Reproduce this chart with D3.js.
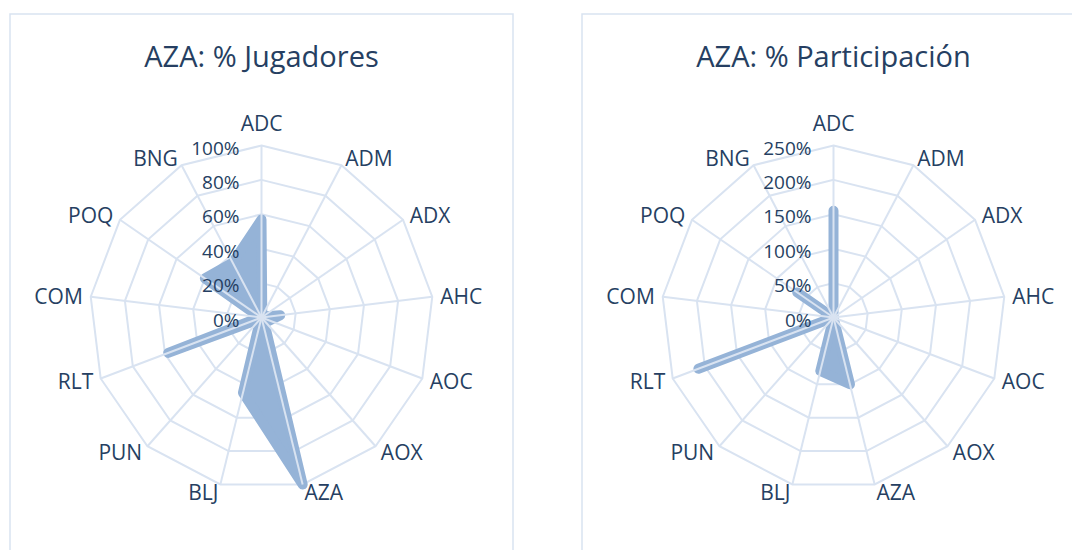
<!DOCTYPE html>
<html>
<head>
<meta charset="utf-8">
<script src="https://cdn.jsdelivr.net/npm/d3@7"></script>
<style>
  body { margin: 0; background: #fff; }
  text { font-family: "Open Sans", "Noto Sans", sans-serif; fill: #263f62; }
</style>
</head>
<body>
<div class="chart-container"></div>
<script>
//Width and height
const w = 1072;
const h = 550;

// categories, clockwise from the top
const categories = ["ADC", "ADM", "ADX", "AHC", "AOC", "AOX", "AZA", "BLJ", "PUN", "RLT", "COM", "POQ", "BNG"];

// % Jugadores
const jugadores = [57, 1, 1, 11, 5, 2, 100, 45, 1, 58, 1, 40, 36];
const jugadoresTicks = [0, 20, 40, 60, 80, 100];

// % Participacion
const participacion = [155, 0, 0, 0, 0, 0, 100, 80, 0, 210, 0, 64, 0];
const participacionTicks = [0, 50, 100, 150, 200, 250];

const gridColor = "#d9e3f1";
const fillColor = "#95b3d7";

const panelW = 503;
const radius = 172;

//Create SVG element
const svg = d3
  .select(".chart-container")
  .append("svg")
  .attr("width", w)
  .attr("height", h);

const angle = (i) => (i * 2 * Math.PI) / categories.length;

const drawRadar = (x0, title, values, ticks) => {
  const cx = x0 + panelW / 2;
  const cy = 317.5;

  const r = d3
    .scaleLinear()
    .domain([0, d3.max(ticks)])
    .range([0, radius]);

  const g = svg.append("g");

  // panel border
  g.append("rect")
    .attr("x", x0)
    .attr("y", 14)
    .attr("width", panelW)
    .attr("height", 600)
    .attr("fill", "none")
    .attr("stroke", gridColor)
    .attr("stroke-width", 1.5);

  // title
  g.append("text")
    .attr("x", cx)
    .attr("y", 67)
    .attr("text-anchor", "middle")
    .style("font-size", "29px")
    .text(title);

  const chart = g.append("g").attr("transform", `translate(${cx},${cy})`);

  // rings
  const ring = d3
    .lineRadial()
    .angle((d, i) => angle(i))
    .radius((d) => r(d))
    .curve(d3.curveLinearClosed);

  chart
    .selectAll(".ring")
    .data(ticks.slice(1))
    .enter()
    .append("path")
    .attr("class", "ring")
    .attr("d", (t) => ring(categories.map(() => t)))
    .attr("fill", "none")
    .attr("stroke", gridColor)
    .attr("stroke-width", 2);

  // filled series
  chart
    .append("path")
    .attr("d", ring(values))
    .attr("fill", fillColor)
    .attr("stroke", fillColor)
    .attr("stroke-width", 10)
    .attr("stroke-linejoin", "round");

  // spokes
  chart
    .selectAll(".spoke")
    .data(categories)
    .enter()
    .append("line")
    .attr("class", "spoke")
    .attr("x1", 0)
    .attr("y1", 0)
    .attr("x2", (d, i) => radius * Math.sin(angle(i)))
    .attr("y2", (d, i) => -radius * Math.cos(angle(i)))
    .attr("stroke", gridColor)
    .attr("stroke-width", 2);

  // value tick labels
  chart
    .selectAll(".tick")
    .data(ticks)
    .enter()
    .append("text")
    .attr("class", "tick")
    .attr("x", -22)
    .attr("y", (t) => -r(t) + 2)
    .attr("text-anchor", "end")
    .attr("dominant-baseline", "central")
    .style("font-size", "19px")
    .text((t) => t + "%");

  // category labels
  chart
    .selectAll(".cat")
    .data(categories)
    .enter()
    .append("text")
    .attr("class", "cat")
    .attr("x", (d, i) => (radius + 8) * Math.sin(angle(i)))
    .attr("y", (d, i) => {
      const y = -(radius + 8) * Math.cos(angle(i));
      return i === 0 ? y - 15 : y;
    })
    .attr("text-anchor", (d, i) => {
      const s = Math.sin(angle(i));
      if (Math.abs(s) < 0.01) return "middle";
      return s > 0 ? "start" : "end";
    })
    .attr("dominant-baseline", "central")
    .style("font-size", "21px")
    .text((d) => d);
};

drawRadar(10, "AZA: % Jugadores", jugadores, jugadoresTicks);
drawRadar(582, "AZA: % Participación", participacion, participacionTicks);
</script>
</body>
</html>
